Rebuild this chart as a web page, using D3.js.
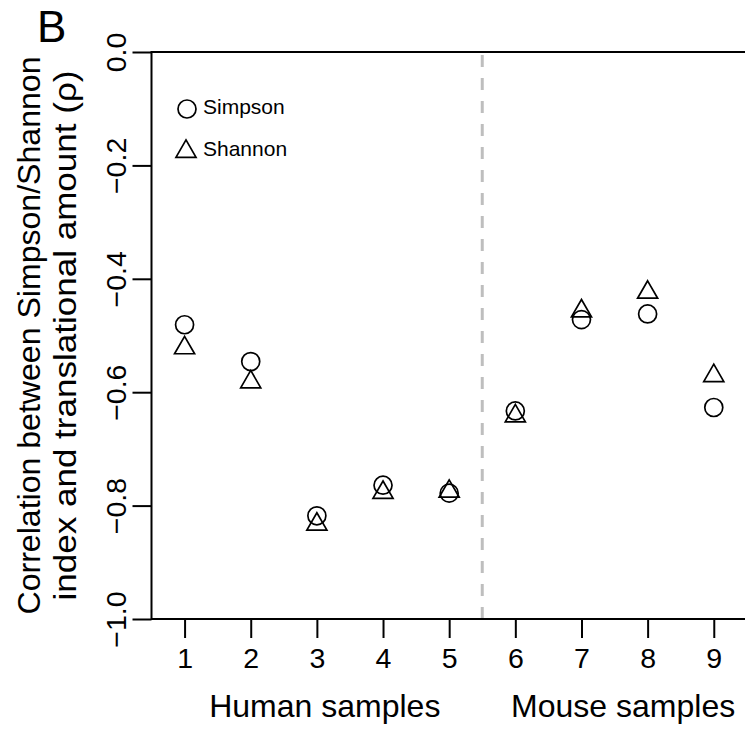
<!DOCTYPE html>
<html>
<head>
<meta charset="utf-8">
<script src="https://cdn.jsdelivr.net/npm/d3@7"></script>
<style>
  html, body { margin: 0; padding: 0; background: #fff; }
  svg { display: block; font-family: "Liberation Sans", Arial, sans-serif; }
</style>
</head>
<body>
<svg id="chart" width="745" height="729"></svg>
<script>
// ---- data ----
const samples = [1, 2, 3, 4, 5, 6, 7, 8, 9];
const simpson = [-0.481, -0.546, -0.818, -0.764, -0.778, -0.633, -0.472, -0.462, -0.627];
const shannon = [-0.522, -0.582, -0.833, -0.777, -0.775, -0.642, -0.457, -0.424, -0.571];
const yTicks = [0, -0.2, -0.4, -0.6, -0.8, -1.0];
const groupLabels = [
  { text: "Human samples", at: 3.12 },
  { text: "Mouse samples", at: 7.63 }
];
const divider = 5.5;
const legendItems = ["Simpson", "Shannon"];

(function () {
// ---- layout ----
const svg = d3.select("#chart");
const pLeft = 151.5, pTop = 52, pBottom = 619;
const step = 66.15;
const x = d3.scaleLinear().domain([0.5, 9.5]).range([pLeft, pLeft + 9 * step]);
const y = d3.scaleLinear().domain([0, -1]).range([pTop, pBottom]);

// triangle path (R pch=2 geometry)
const R = 7.45;
function tri(cx, cy) {
  const r = 1.555 * R, xc = 1.347 * R, yc = 0.778 * R;
  return `M${cx},${cy - r}L${cx + xc},${cy + yc}L${cx - xc},${cy + yc}Z`;
}
const circR = 9;

// dashed divider
svg.append("line")
  .attr("x1", x(divider)).attr("x2", x(divider))
  .attr("y1", pTop).attr("y2", pBottom)
  .attr("stroke", "#bebebe").attr("stroke-width", 3)
  .attr("stroke-dasharray", "12 11").attr("stroke-dashoffset", 20);

// box (left, top, bottom; right side beyond canvas)
svg.append("path")
  .attr("d", `M${x.range()[1]},${pTop}H${pLeft}V${pBottom}H${x.range()[1]}`)
  .attr("fill", "none").attr("stroke", "#000").attr("stroke-width", 2);

// y axis
const yAxis = d3.axisLeft(y).tickValues(yTicks).tickSize(19).tickSizeOuter(0)
  .tickFormat(d3.format(".1f"));
const gy = svg.append("g").attr("transform", `translate(${pLeft},0)`).call(yAxis);
gy.select(".domain").remove();
gy.selectAll(".tick line").attr("stroke", "#000").attr("stroke-width", 2);
gy.selectAll(".tick text")
  .attr("transform", "rotate(-90)")
  .attr("x", 0).attr("y", -26).attr("dy", null)
  .attr("text-anchor", "middle")
  .attr("font-size", 28.5).attr("font-family", "Liberation Sans, Arial, sans-serif")
  .attr("fill", "#000");

// x axis
const xAxis = d3.axisBottom(x).tickValues(samples).tickSize(19).tickSizeOuter(0)
  .tickFormat(d3.format("d"));
const gx = svg.append("g").attr("transform", `translate(0,${pBottom})`).call(xAxis);
gx.select(".domain").remove();
gx.selectAll(".tick line").attr("stroke", "#000").attr("stroke-width", 2);
gx.selectAll(".tick text")
  .attr("y", 49).attr("dy", null)
  .attr("font-size", 28.5).attr("font-family", "Liberation Sans, Arial, sans-serif")
  .attr("fill", "#000");

// group labels
svg.selectAll("text.group").data(groupLabels).enter().append("text")
  .attr("class", "group")
  .attr("x", d => x(d.at)).attr("y", 717)
  .attr("text-anchor", "middle")
  .attr("font-size", 32)
  .text(d => d.text);

// y title (two lines)
const yTitle = ["Correlation between Simpson/Shannon", "index and translational amount (\u03C1)"];
const midY = (pTop + pBottom) / 2;
svg.selectAll("text.ytitle").data(yTitle).enter().append("text")
  .attr("class", "ytitle")
  .attr("transform", (d, i) => `translate(${i === 0 ? 40 : 76},${midY}) rotate(-90)`)
  .attr("text-anchor", "middle")
  .attr("font-size", 32)
  .attr("textLength", (d, i) => i === 0 ? 558 : 530)
  .attr("lengthAdjust", "spacingAndGlyphs")
  .text(d => d);

// panel letter
svg.append("text").attr("x", 37).attr("y", 42)
  .attr("font-size", 44).text("B");

// points
svg.selectAll("circle.simpson").data(samples).enter().append("circle")
  .attr("class", "simpson")
  .attr("cx", (d, i) => x(d)).attr("cy", (d, i) => y(simpson[i]))
  .attr("r", circR).attr("fill", "none").attr("stroke", "#000").attr("stroke-width", 1.7);
svg.selectAll("path.shannon").data(samples).enter().append("path")
  .attr("class", "shannon")
  .attr("d", (d, i) => tri(x(d), y(shannon[i])))
  .attr("fill", "none").attr("stroke", "#000").attr("stroke-width", 1.7)
  .attr("stroke-linejoin", "miter");

// legend
const legX = 186;
svg.append("circle").attr("cx", legX + 1).attr("cy", 109)
  .attr("r", circR).attr("fill", "none").attr("stroke", "#000").attr("stroke-width", 1.7);
svg.append("path").attr("d", tri(legX, 151.5))
  .attr("fill", "none").attr("stroke", "#000").attr("stroke-width", 1.7);
svg.selectAll("text.leg").data(legendItems).enter().append("text")
  .attr("class", "leg")
  .attr("x", 203).attr("y", (d, i) => i === 0 ? 114 : 156)
  .attr("font-size", 21)
  .text(d => d);
})();
</script>
</body>
</html>
